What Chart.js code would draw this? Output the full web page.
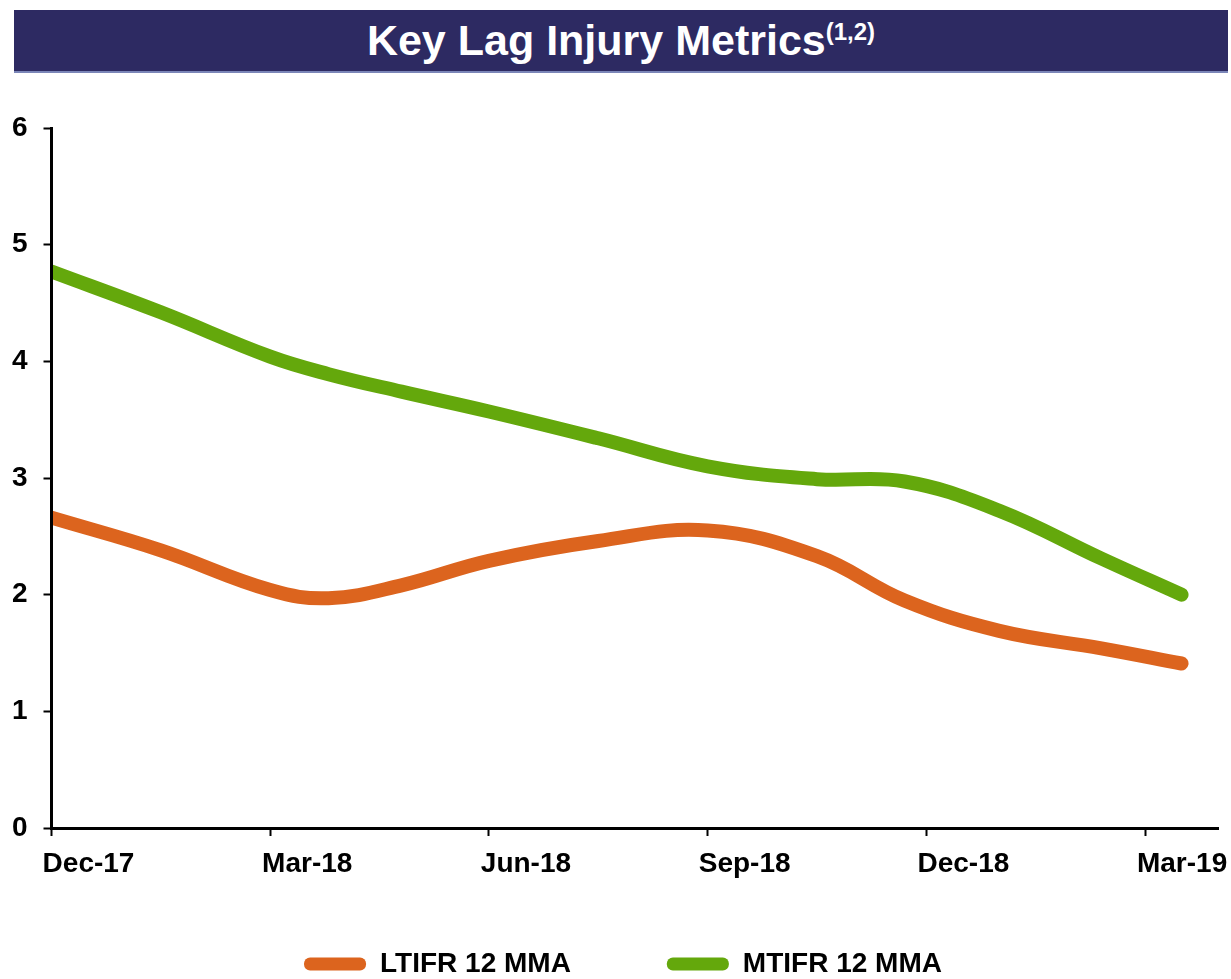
<!DOCTYPE html>
<html>
<head>
<meta charset="utf-8">
<script src="https://cdn.jsdelivr.net/npm/chart.js@4.4.1/dist/chart.umd.min.js"></script>
<style>
  html, body { margin: 0; padding: 0; background: #fff; overflow: hidden; }
  body { width: 1231px; height: 979px; position: relative; font-family: "Liberation Sans", Arial, sans-serif; }
  #banner {
    position: absolute; left: 14px; top: 10px; width: 1214px; height: 61px;
    background: #2d2a62; border-bottom: 2px solid #7b86b8;
    color: #fff; font-weight: bold; font-size: 43px; line-height: 61px; text-align: center;
  }
  #banner sup { font-size: 24px; vertical-align: 0; position: relative; top: -15px; }
  #wrap { position: absolute; left: 0; top: 0; width: 1231px; height: 1022px; }
</style>
</head>
<body>
<div id="wrap"><canvas id="myChart"></canvas></div>
<div id="banner">Key Lag Injury Metrics<sup>(1,2)</sup></div>
<script>
window.addEventListener("load", function(){
    // months after Dec-17
    const months = [0, 1.5, 3, 3.8, 4.8, 6, 7.5, 9, 10.5, 11.7, 13, 14.4, 15.5]
    const ltifr = [2.66, 2.38, 2.04, 1.97, 2.08, 2.29, 2.46, 2.55, 2.33, 1.95, 1.69, 1.54, 1.41]
    const mtifr = [4.77, 4.42, 4.04, 3.89, 3.74, 3.57, 3.34, 3.10, 2.99, 2.97, 2.72, 2.31, 2.00]
    const tickLabels = ["Dec-17", "Mar-18", "Jun-18", "Sep-18", "Dec-18", "Mar-19"]

    const orange = '#dc641e'
    const green = '#64a80c'
    const fontFamily = '"Liberation Sans", Arial, sans-serif'

    const toPoints = values => values.map((v, i) => ({x: months[i], y: v}))

    // legend spacing needs a big label padding, so pull the box back up under the axis
    const legendShift = {
        id: 'legendShift',
        afterLayout: chart => {
            const lg = chart.legend
            lg.top -= 34; lg.bottom -= 34
            lg.left += 14; lg.right += 14
        }
    }

    const ctx = document.getElementById("myChart")

    new Chart(ctx, {
        type: "line",
        data: {
            datasets: [{
                label: "LTIFR 12 MMA",
                data: toPoints(ltifr),
                borderColor: orange,
                backgroundColor: orange
            }, {
                label: "MTIFR 12 MMA",
                data: toPoints(mtifr),
                borderColor: green,
                backgroundColor: green
            }]
        },
        plugins: [legendShift],
        options: {
            animation: false,
            responsive: true,
            maintainAspectRatio: false,
            layout: { padding: { top: 128, left: 0, right: 13, bottom: 0 } },
            elements: {
                line: { borderWidth: 14, tension: 0.4, borderCapStyle: 'round', borderJoinStyle: 'round' },
                point: { radius: 0, hoverRadius: 0 }
            },
            datasets: {
                line: { clip: { left: 0, top: 20, right: 20, bottom: 20 } }
            },
            scales: {
                x: {
                    type: 'linear',
                    min: 0,
                    max: 16,
                    afterFit: scale => { scale.height = 60; scale.paddingLeft = 0; scale.paddingRight = 0 },
                    border: { display: true, color: '#000', width: 3, z: 1 },
                    grid: { drawOnChartArea: false, drawTicks: true, tickLength: 8, tickColor: '#000', tickWidth: 2 },
                    ticks: {
                        stepSize: 3,
                        includeBounds: false,
                        autoSkip: false,
                        maxRotation: 0,
                        labelOffset: 37,
                        padding: 11,
                        color: '#000',
                        font: { family: fontFamily, size: 28, weight: 'bold' },
                        callback: v => tickLabels[v / 3]
                    }
                },
                y: {
                    min: 0,
                    max: 6,
                    afterFit: scale => { scale.width = 51.5 },
                    border: { display: true, color: '#000', width: 3, z: 1 },
                    grid: { drawOnChartArea: false, drawTicks: true, tickLength: 8, tickColor: '#000', tickWidth: 2 },
                    ticks: {
                        stepSize: 1,
                        padding: 16,
                        color: '#000',
                        font: { family: fontFamily, size: 28, weight: 'bold' }
                    }
                }
            },
            plugins: {
                title: { display: false },
                tooltip: { enabled: false },
                legend: {
                    position: 'bottom',
                    labels: {
                        boxWidth: 62,
                        boxHeight: 13,
                        useBorderRadius: true,
                        borderRadius: 6,
                        padding: 96,
                        color: '#000',
                        font: { family: fontFamily, size: 28, weight: 'bold' },
                        generateLabels: chart => Chart.defaults.plugins.legend.labels.generateLabels(chart)
                            .map(item => Object.assign(item, { lineWidth: 0 }))
                    }
                }
            }
        }
    });
})
</script>
</body>
</html>
